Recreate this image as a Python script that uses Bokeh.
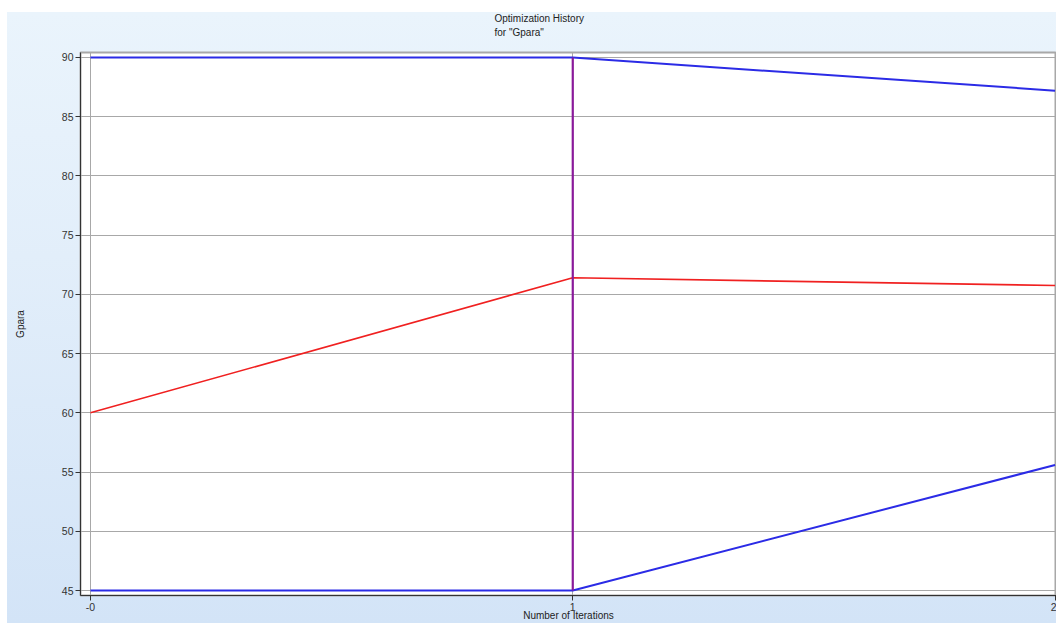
from bokeh.plotting import figure
from bokeh.models import FixedTicker, Range1d, Title
from bokeh.embed import file_html
from bokeh.resources import INLINE

# Data
iterations = [0, 1, 2]
upper_bound = [90.0, 90.0, 87.2]
lower_bound = [45.0, 45.0, 55.6]
gpara = [60.0, 71.4, 70.75]
marker_x = [1, 1]
marker_y = [45.0, 90.0]
y_ticks = [45, 50, 55, 60, 65, 70, 75, 80, 85, 90]
x_ticks = [0, 1, 2]
x_tick_labels = {0: "-0", 1: "1", 2: "2"}
title_lines = ["Optimization History", "for \"Gpara\""]

FONT = "Liberation Sans"

p = figure(width=1049, height=611, output_backend="svg", toolbar_location=None,
           x_range=Range1d(-0.0207, 2.003), y_range=Range1d(44.578, 90.422),
           min_border_left=73, min_border_right=0, min_border_top=40, min_border_bottom=28,
           title=None)

p.styles = {"background": "linear-gradient(to bottom, #EAF4FC 0%, #E2EEFA 40%, #D3E4F7 100%)",
            "margin-top": "12px", "margin-left": "7px"}
p.border_fill_color = None
p.background_fill_color = "white"
p.outline_line_color = "#A8A8A8"
p.outline_line_width = 2

# spacer between frame and title, then the two-line title
p.add_layout(Title(text=" ", text_font=FONT, text_font_size="9px", standoff=0), "above")
p.add_layout(Title(text="\n".join(title_lines), text_font=FONT, text_font_size="10px",
                   text_font_style="normal", text_color="#222222", align="left",
                   vertical_align="top", offset=414, standoff=0, text_line_height=1.35),
             "above")

# grids
p.xgrid.ticker = FixedTicker(ticks=x_ticks)
p.ygrid.ticker = FixedTicker(ticks=y_ticks)
p.xgrid.grid_line_color = "#A8A8A8"
p.ygrid.grid_line_color = "#A8A8A8"
p.xgrid.grid_line_width = 1
p.ygrid.grid_line_width = 1

# axes
for ax in (p.xaxis[0], p.yaxis[0]):
    ax.axis_line_color = "#333333"
    ax.major_tick_line_color = "#333333"
    ax.minor_tick_line_color = None
    ax.major_tick_in = 0
    ax.major_tick_out = 5
    ax.major_label_text_font = FONT
    ax.major_label_text_font_size = "10.5px"
    ax.major_label_text_color = "#333333"
    ax.axis_label_text_font = FONT
    ax.axis_label_text_font_size = "10px"
    ax.axis_label_text_font_style = "normal"
    ax.axis_label_text_color = "#222222"

p.xaxis.ticker = FixedTicker(ticks=x_ticks)
p.xaxis.major_label_overrides = x_tick_labels
p.xaxis.axis_label = "Number of Iterations"
p.xaxis.major_label_standoff = 2
p.xaxis.axis_label_standoff = -4

p.yaxis.ticker = FixedTicker(ticks=y_ticks)
p.yaxis.axis_label = "Gpara"
p.yaxis.major_label_standoff = 2
p.yaxis.axis_label_standoff = 33

# series
p.line(iterations, upper_bound, line_color="#2B2BE6", line_width=2)
p.line(iterations, lower_bound, line_color="#2B2BE6", line_width=2)
p.line(iterations, gpara, line_color="#F02020", line_width=1.6)
p.line(marker_x, marker_y, line_color="#8A1A9A", line_width=2.2)

open("out.html", "w").write(file_html(p, INLINE))
